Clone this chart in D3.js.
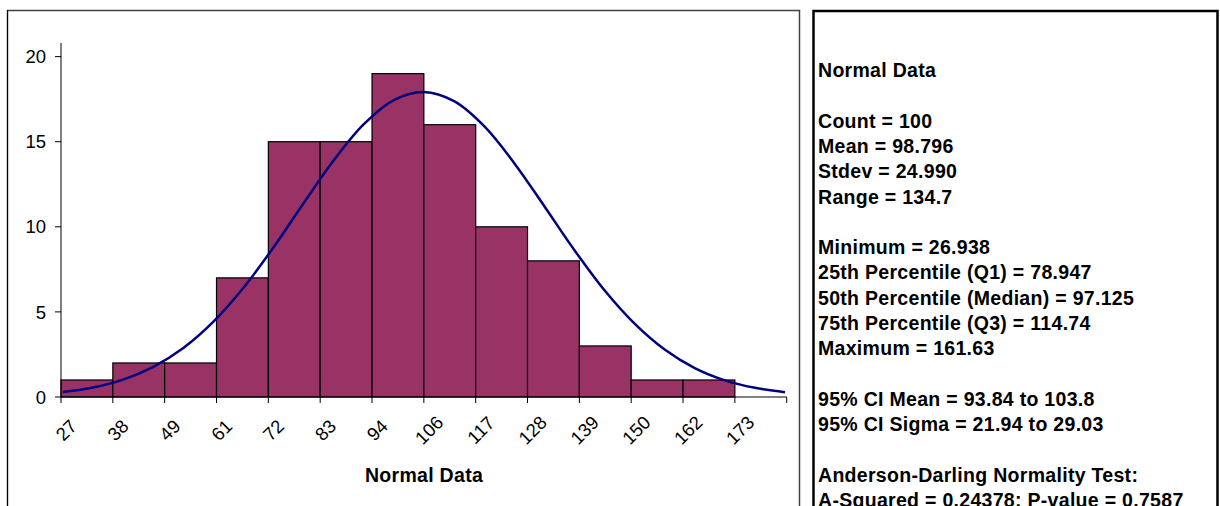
<!DOCTYPE html>
<html>
<head>
<meta charset="utf-8">
<script src="https://cdn.jsdelivr.net/npm/d3@7"></script>
<style>
  body { margin: 0; background: #fff; }
  svg { display: block; font-family: "Liberation Sans", Arial, sans-serif; }
</style>
</head>
<body>
<svg width="1220" height="506"></svg>
<script>
const svg = d3.select("svg");

// DATA
const binLabels = ["27", "38", "49", "61", "72", "83", "94", "106", "117", "128", "139", "150", "162", "173"];
const counts = [1, 2, 2, 7, 15, 15, 19, 16, 10, 8, 3, 1, 1, 0];
const yTicks = [0, 5, 10, 15, 20];

// fitted normal curve
const curveX = [27, 33, 39, 45, 51, 57, 63, 69, 75, 81, 87, 93, 99, 105, 111, 117, 123, 129, 135, 141, 147, 153, 159, 165, 171];
const curveY = [0.29, 0.56, 1.02, 1.77, 2.88, 4.43, 6.42, 8.8, 11.39, 13.91, 16.03, 17.45, 17.92, 17.38, 15.91, 13.74, 11.21, 8.63, 6.27, 4.31, 2.79, 1.7, 0.98, 0.54, 0.28];

const statLines = [
  "Normal Data",
  "",
  "Count = 100",
  "Mean = 98.796",
  "Stdev = 24.990",
  "Range = 134.7",
  "",
  "Minimum = 26.938",
  "25th Percentile (Q1) = 78.947",
  "50th Percentile (Median) = 97.125",
  "75th Percentile (Q3) = 114.74",
  "Maximum = 161.63",
  "",
  "95% CI Mean = 93.84 to 103.8",
  "95% CI Sigma = 21.94 to 29.03",
  "",
  "Anderson-Darling Normality Test:",
  "A-Squared = 0.24378; P-value = 0.7587"
];

// CONSTANTS
const plot = { left: 61, right: 786.7, top: 43, bottom: 397 };
const barColor = "#993366";
const curveColor = "#000080";
const tickFont = 18.5;
const boldFont = 19.5;

// SCALES
const x = d3.scaleBand().domain(binLabels).range([plot.left, plot.right]).padding(0);
const y = d3.scaleLinear().domain([0, 20.8]).range([plot.bottom, plot.top]);
const xCurve = d3.scaleLinear().domain([27, 171]).range([63, 785]);

// panel frames
svg.append("rect")
  .attr("x", 7.5).attr("y", 10.5).attr("width", 792).attr("height", 520)
  .attr("fill", "none").attr("stroke", "#404040").attr("stroke-width", 1.5);
svg.append("line")
  .attr("x1", 7.5).attr("x2", 7.5).attr("y1", 10).attr("y2", 506)
  .attr("stroke", "#000").attr("stroke-width", 1);

svg.append("rect")
  .attr("x", 813.5).attr("y", 11)
  .attr("width", 1217.5 - 813.5).attr("height", 520)
  .attr("fill", "none").attr("stroke", "#000").attr("stroke-width", 2.5);

// bars
svg.append("g")
  .selectAll("rect")
  .data(counts.map((c, i) => ({ label: binLabels[i], count: c })).filter(d => d.count > 0))
  .join("rect")
  .attr("x", d => x(d.label))
  .attr("y", d => y(d.count))
  .attr("width", x.bandwidth())
  .attr("height", d => y(0) - y(d.count))
  .attr("fill", barColor)
  .attr("stroke", "#000")
  .attr("stroke-width", 1.2);

// y axis
const yAxis = svg.append("g").attr("transform", `translate(${plot.left},0)`);
yAxis.append("line")
  .attr("x1", 0).attr("x2", 0).attr("y1", plot.top).attr("y2", plot.bottom)
  .attr("stroke", "#000");
yAxis.selectAll("line.tick")
  .data(yTicks)
  .join("line")
  .attr("class", "tick")
  .attr("x1", -6).attr("x2", 0)
  .attr("y1", d => y(d)).attr("y2", d => y(d))
  .attr("stroke", "#000");
yAxis.selectAll("text")
  .data(yTicks)
  .join("text")
  .attr("x", -15)
  .attr("y", d => y(d))
  .attr("dy", "0.36em")
  .attr("text-anchor", "end")
  .attr("font-size", tickFont)
  .text(d => d);

// x axis
const tickPos = binLabels.map(d => x(d)).concat([plot.right]);
const xAxis = svg.append("g");
xAxis.append("line")
  .attr("x1", plot.left).attr("x2", plot.right)
  .attr("y1", plot.bottom).attr("y2", plot.bottom)
  .attr("stroke", "#000");
xAxis.selectAll("line.tick")
  .data(tickPos)
  .join("line")
  .attr("class", "tick")
  .attr("x1", d => d).attr("x2", d => d)
  .attr("y1", plot.bottom).attr("y2", plot.bottom + 6)
  .attr("stroke", "#000");
xAxis.selectAll("text")
  .data(binLabels)
  .join("text")
  .attr("transform", d => `translate(${x(d) + 5},430) rotate(-45)`)
  .attr("text-anchor", "middle")
  .attr("dy", "0.36em")
  .attr("font-size", tickFont)
  .text(d => d);

svg.append("text")
  .attr("x", 424).attr("y", 475)
  .attr("dy", "0.36em")
  .attr("text-anchor", "middle")
  .attr("font-size", boldFont)
  .attr("font-weight", "bold")
  .attr("letter-spacing", 0.3)
  .text("Normal Data");

// normal curve
const line = d3.line()
  .x((d, i) => xCurve(curveX[i]))
  .y(d => y(d))
  .curve(d3.curveCatmullRom);
svg.append("path")
  .datum(curveY)
  .attr("d", line)
  .attr("fill", "none")
  .attr("stroke", curveColor)
  .attr("stroke-width", 2.5);

// stats panel
svg.append("g")
  .selectAll("text")
  .data(statLines)
  .join("text")
  .attr("x", 818)
  .attr("y", (d, i) => 70 + i * 25.3)
  .attr("dy", "0.36em")
  .attr("font-size", boldFont)
  .attr("font-weight", "bold")
  .attr("letter-spacing", 0.3)
  .text(d => d);
</script>
</body>
</html>
